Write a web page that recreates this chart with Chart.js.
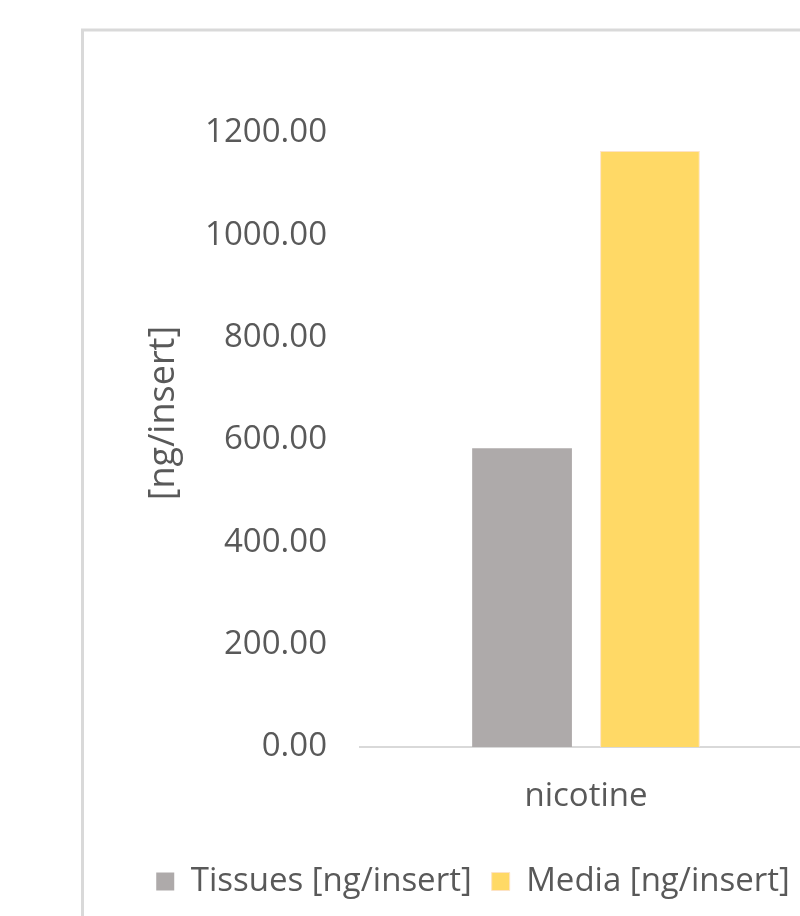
<!DOCTYPE html>
<html>
<head>
<meta charset="utf-8">
<script src="https://cdn.jsdelivr.net/npm/chart.js@4/dist/chart.umd.min.js"></script>
<style>
html,body{margin:0;padding:0;overflow:hidden;background:#fff;width:800px;height:916px;}
#wrap{position:absolute;left:0;top:0;width:830px;height:916px;}
</style>
</head>
<body>
<div id="wrap"><canvas id="c" width="830" height="916"></canvas></div>
<script>
const categories = ["nicotine"];
const tissues = [584];
const media = [1165];
const seriesNames = ["Tissues [ng/insert]", "Media [ng/insert]"];
const yTitle = "[ng/insert]";
const yMin = 0, yMax = 1200, yStep = 200;

const FONT = "'Open Sans', 'Noto Sans', sans-serif";
const TXT = "#595959";

const borderPlugin = {
  id: 'frame',
  beforeDraw(chart) {
    const ctx = chart.ctx;
    ctx.save();
    ctx.fillStyle = '#fff';
    ctx.fillRect(0, 0, chart.width, chart.height);
    ctx.strokeStyle = '#d9d9d9';
    ctx.lineWidth = 3;
    ctx.strokeRect(82.5, 30, 2000, 2000);
    ctx.restore();
  }
};

new Chart(document.getElementById('c'), {
  type: 'bar',
  data: {
    labels: categories,
    datasets: [
      { label: seriesNames[0], data: tissues, backgroundColor: '#aeaaaa', borderWidth: 0,
        categoryPercentage: 0.566, barPercentage: 0.78 },
      { label: seriesNames[1], data: media, backgroundColor: '#ffd966', borderColor: '#fde3c6', borderWidth: 1,
        categoryPercentage: 0.566, barPercentage: 0.78 }
    ]
  },
  options: {
    responsive: false,
    animation: false,
    devicePixelRatio: 1,
    layout: { padding: { left: 134, right: 18, top: 133, bottom: 8 } },
    plugins: {
      tooltip: { enabled: false },
      legend: {
        position: 'bottom',
        labels: {
          color: TXT,
          font: { family: FONT, size: 33 },
          boxWidth: 18, boxHeight: 18,
          padding: 20
        }
      }
    },
    scales: {
      x: {
        grid: { display: false, drawTicks: false },
        border: { display: true, color: '#d9d9d9', width: 2 },
        ticks: { color: TXT, font: { family: FONT, size: 33 }, padding: 30 },
        afterFit(s) { s.height = 98; }
      },
      y: {
        min: yMin, max: yMax,
        grid: { display: false, drawTicks: false },
        border: { display: false },
        ticks: { stepSize: yStep, color: TXT, font: { family: FONT, size: 33 }, padding: 33,
          callback: v => Number(v).toFixed(2) },
        title: { display: true, text: '\u2002\u2002\u2002' + yTitle, color: TXT, font: { family: FONT, size: 36 }, padding: { top: 8, bottom: 0 } },
        afterFit(s) { s.width = 226; }
      }
    }
  },
  plugins: [borderPlugin]
});
</script>
</body>
</html>
